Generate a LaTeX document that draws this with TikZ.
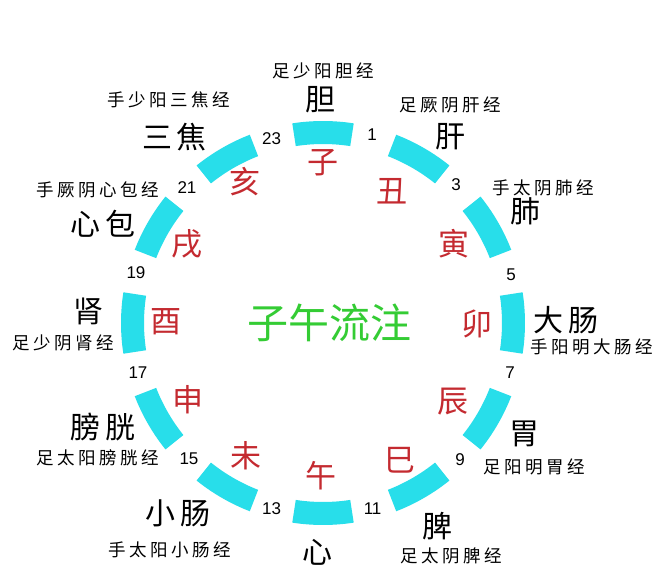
\documentclass[tikz,border=0pt]{standalone}
\usepackage{fontspec}
\setmainfont{Noto Sans CJK SC}
\newfontfamily\numfont{Liberation Sans}
\definecolor{segcyan}{RGB}{40,222,234}
\definecolor{branchred}{RGB}{196,42,48}
\definecolor{titlegreen}{RGB}{52,204,52}
\newdimen\chargap
\newcommand\spacedtext[2][3.5pt]{\chargap=#1\relax\spacedloop#2\relax}
\def\spacedloop#1#2{#1\ifx\relax#2\else\kern\chargap\expandafter\spacedloop\expandafter#2\fi}
\tikzset{
  seg/.style={fill=segcyan},
  meridian/.style={inner sep=0pt,font=\fontsize{17.5}{18}\selectfont},
  organ/.style={inner sep=0pt,font=\fontsize{30}{31}\selectfont},
  branch/.style={inner sep=0pt,text=branchred,font=\fontsize{31}{32}\selectfont},
  hour/.style={inner sep=0pt,font=\numfont\fontsize{17}{18}\selectfont},
  title/.style={inner sep=0pt,text=titlegreen,font=\fontsize{41}{42}\selectfont}
}
\begin{document}
\begin{tikzpicture}[x=1pt,y=-1pt]
\useasboundingbox (0,0) rectangle (665,584);
\fill[white] (0,0) rectangle (665,584);
% segments
\foreach \a in {0,30,...,330}{
  \fill[seg,shift={(323,323)}] (\a-8.75:202) arc[start angle=\a-8.75,end angle=\a+8.75,radius=202]
    -- (\a+8.75:179) arc[start angle=\a+8.75,end angle=\a-8.75,radius=179] -- cycle;
}
% title
\node[title] (title) at (329,323) {子午流注};
% branches
\node[branch] (zi)   at (323,162.5) {子};
\node[branch] (chou) at (392,190.8) {丑};
\node[branch] (yin)  at (454,244) {寅};
\node[branch] (mao)  at (476.7,324) {卯};
\node[branch] (chen) at (453,401.7) {辰};
\node[branch] (si)   at (400,460) {巳};
\node[branch] (wu)   at (320.6,476) {午};
\node[branch] (wei)  at (246,456) {未};
\node[branch] (shen) at (188,400) {申};
\node[branch] (you)  at (165.6,321.7) {酉};
\node[branch] (xu)   at (187,244) {戌};
\node[branch] (hai)  at (245,181.7) {亥};
% hours
\node[hour] (h23) at (271.7,139) {23};
\node[hour] (h1)  at (372,135) {1};
\node[hour] (h3)  at (456,185) {3};
\node[hour] (h5)  at (511,275) {5};
\node[hour] (h7)  at (510,373) {7};
\node[hour] (h9)  at (460,460) {9};
\node[hour] (h11) at (372.6,509) {11};
\node[hour] (h13) at (271.7,509) {13};
\node[hour] (h15) at (189,459) {15};
\node[hour] (h17) at (138,373) {17};
\node[hour] (h19) at (136,273) {19};
\node[hour] (h21) at (187,188) {21};
% organs
\node[organ] (dan)  at (320,99.5) {胆};
\node[organ] (sj)   at (174.5,136.7) {\spacedtext[5pt]{三焦}};
\node[organ] (gan)  at (450,136.7) {肝};
\node[organ] (xb)   at (103,224) {\spacedtext[5pt]{心包}};
\node[organ] (fei)  at (525,211.5) {肺};
\node[organ] (shenz) at (88,311) {肾};
\node[organ] (dc)   at (566,320) {\spacedtext[5pt]{大肠}};
\node[organ] (pg)   at (103,426.7) {\spacedtext[5pt]{膀胱}};
\node[organ] (weiz) at (524.5,434) {胃};
\node[organ] (xc)   at (178.4,513) {\spacedtext[5pt]{小肠}};
\node[organ] (pi)   at (437,526) {脾};
\node[organ] (xin)  at (317,552) {心};
% meridians
\node[meridian] (m1)  at (323,70.5) {\spacedtext{足少阳胆经}};
\node[meridian] (m2)  at (168.5,99.5) {\spacedtext{手少阳三焦经}};
\node[meridian] (m3)  at (450,105) {\spacedtext{足厥阴肝经}};
\node[meridian] (m4)  at (98,190) {\spacedtext{手厥阴心包经}};
\node[meridian] (m5)  at (543.5,188) {\spacedtext{手太阴肺经}};
\node[meridian] (m6)  at (63,343) {\spacedtext{足少阴肾经}};
\node[meridian] (m7)  at (592,347) {\spacedtext{手阳明大肠经}};
\node[meridian] (m8)  at (98,458) {\spacedtext{足太阳膀胱经}};
\node[meridian] (m9)  at (534,467) {\spacedtext{足阳明胃经}};
\node[meridian] (m10) at (170,550) {\spacedtext{手太阳小肠经}};
\node[meridian] (m11) at (451,555.5) {\spacedtext{足太阴脾经}};
\end{tikzpicture}
\end{document}
